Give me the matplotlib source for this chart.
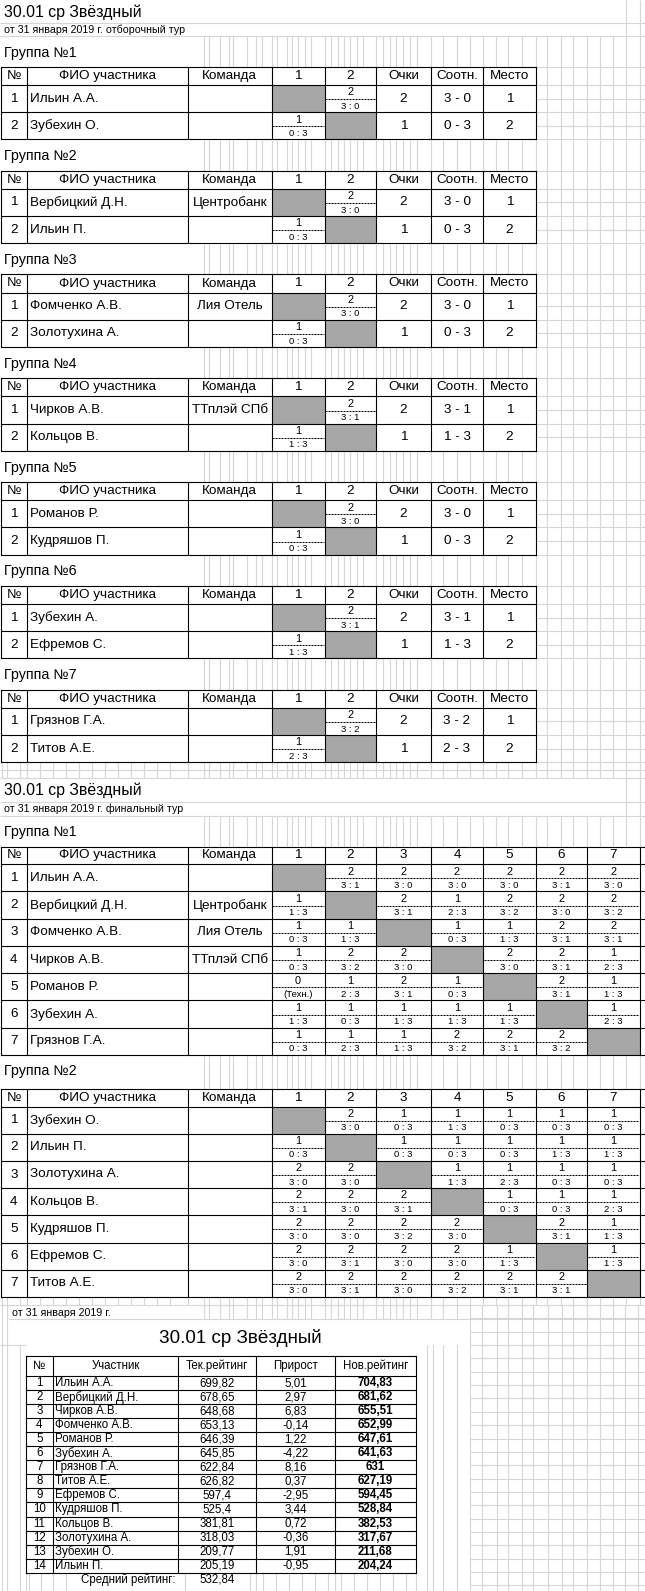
import matplotlib
matplotlib.use('Agg')
import matplotlib.pyplot as plt
from matplotlib.patches import Rectangle

plt.rcParams['font.family'] = ['Liberation Sans', 'DejaVu Sans']

# ---------------- data ----------------
TITLE = "30.01 ср Звёздный"
SUB_QUAL = "от 31 января 2019 г. отборочный тур"
SUB_FINAL = "от 31 января 2019 г. финальный тур"
SUB_RATING = "от 31 января 2019 г."

qual_groups = ["Группа №1", "Группа №2", "Группа №3", "Группа №4", "Группа №5", "Группа №6", "Группа №7"]
qual_players = [["Ильин А.А.", "Зубехин О."],
                ["Вербицкий Д.Н.", "Ильин П."],
                ["Фомченко А.В.", "Золотухина А."],
                ["Чирков А.В.", "Кольцов В."],
                ["Романов Р.", "Кудряшов П."],
                ["Зубехин А.", "Ефремов С."],
                ["Грязнов Г.А.", "Титов А.Е."]]
qual_teams = [["", ""], ["Центробанк", ""], ["Лия Отель", ""], ["ТТплэй СПб", ""],
              ["", ""], ["", ""], ["", ""]]
qual_win_sets = ["3 : 0", "3 : 0", "3 : 0", "3 : 1", "3 : 0", "3 : 1", "3 : 2"]
qual_lose_sets = ["0 : 3", "0 : 3", "0 : 3", "1 : 3", "0 : 3", "1 : 3", "2 : 3"]
qual_points = [[2, 1]] * 7
qual_ratio = [["3 - 0", "0 - 3"], ["3 - 0", "0 - 3"], ["3 - 0", "0 - 3"], ["3 - 1", "1 - 3"],
              ["3 - 0", "0 - 3"], ["3 - 1", "1 - 3"], ["3 - 2", "2 - 3"]]
qual_place = [[1, 2]] * 7
qual_header = ["№", "ФИО участника", "Команда", "1", "2", "Очки", "Соотн.", "Место"]

final_header = ["№", "ФИО участника", "Команда", "1", "2", "3", "4", "5", "6", "7"]
final1_players = ["Ильин А.А.", "Вербицкий Д.Н.", "Фомченко А.В.", "Чирков А.В.",
                  "Романов Р.", "Зубехин А.", "Грязнов Г.А."]
final1_teams = ["", "Центробанк", "Лия Отель", "ТТплэй СПб", "", "", ""]
final1_pts = [[None, 2, 2, 2, 2, 2, 2],
              [1, None, 2, 1, 2, 2, 2],
              [1, 1, None, 1, 1, 2, 2],
              [1, 2, 2, None, 2, 2, 1],
              [0, 1, 2, 1, None, 2, 1],
              [1, 1, 1, 1, 1, None, 1],
              [1, 1, 1, 2, 2, 2, None]]
final1_sets = [[None, "3 : 1", "3 : 0", "3 : 0", "3 : 0", "3 : 1", "3 : 0"],
               ["1 : 3", None, "3 : 1", "2 : 3", "3 : 2", "3 : 0", "3 : 2"],
               ["0 : 3", "1 : 3", None, "0 : 3", "1 : 3", "3 : 1", "3 : 1"],
               ["0 : 3", "3 : 2", "3 : 0", None, "3 : 0", "3 : 1", "2 : 3"],
               ["(Техн.)", "2 : 3", "3 : 1", "0 : 3", None, "3 : 1", "1 : 3"],
               ["1 : 3", "0 : 3", "1 : 3", "1 : 3", "1 : 3", None, "2 : 3"],
               ["0 : 3", "2 : 3", "1 : 3", "3 : 2", "3 : 1", "3 : 2", None]]

final2_players = ["Зубехин О.", "Ильин П.", "Золотухина А.", "Кольцов В.",
                  "Кудряшов П.", "Ефремов С.", "Титов А.Е."]
final2_teams = ["", "", "", "", "", "", ""]
final2_pts = [[None, 2, 1, 1, 1, 1, 1],
              [1, None, 1, 1, 1, 1, 1],
              [2, 2, None, 1, 1, 1, 1],
              [2, 2, 2, None, 1, 1, 1],
              [2, 2, 2, 2, None, 2, 1],
              [2, 2, 2, 2, 1, None, 1],
              [2, 2, 2, 2, 2, 2, None]]
final2_sets = [[None, "3 : 0", "0 : 3", "1 : 3", "0 : 3", "0 : 3", "0 : 3"],
               ["0 : 3", None, "0 : 3", "0 : 3", "0 : 3", "1 : 3", "1 : 3"],
               ["3 : 0", "3 : 0", None, "1 : 3", "2 : 3", "0 : 3", "0 : 3"],
               ["3 : 1", "3 : 0", "3 : 1", None, "0 : 3", "0 : 3", "2 : 3"],
               ["3 : 0", "3 : 0", "3 : 2", "3 : 0", None, "3 : 1", "1 : 3"],
               ["3 : 0", "3 : 1", "3 : 0", "3 : 0", "1 : 3", None, "1 : 3"],
               ["3 : 0", "3 : 1", "3 : 0", "3 : 2", "3 : 1", "3 : 1", None]]

rating_header = ["№", "Участник", "Тек.рейтинг", "Прирост", "Нов.рейтинг"]
rating_names = ["Ильин А.А.", "Вербицкий Д.Н.", "Чирков А.В.", "Фомченко А.В.", "Романов Р.",
                "Зубехин А.", "Грязнов Г.А.", "Титов А.Е.", "Ефремов С.", "Кудряшов П.",
                "Кольцов В.", "Золотухина А.", "Зубехин О.", "Ильин П."]
rating_cur = ["699,82", "678,65", "648,68", "653,13", "646,39", "645,85", "622,84",
              "626,82", "597,4", "525,4", "381,81", "318,03", "209,77", "205,19"]
rating_delta = ["5,01", "2,97", "6,83", "-0,14", "1,22", "-4,22", "8,16",
                "0,37", "-2,95", "3,44", "0,72", "-0,36", "1,91", "-0,95"]
rating_new = ["704,83", "681,62", "655,51", "652,99", "647,61", "641,63", "631",
              "627,19", "594,45", "528,84", "382,53", "317,67", "211,68", "204,24"]
rating_avg_label = "Средний рейтинг:"
rating_avg = "532,84"

# ---------------- layout / style ----------------
W, Hh = 645, 1591
GRID = '#d6d6d6'
GREY = '#a6a6a6'
LW = 0.8
GLW = 0.8

fig = plt.figure(figsize=(W / 100, Hh / 100), dpi=100)
ax = fig.add_axes([0, 0, 1, 1])
ax.set_xlim(0, W)
ax.set_ylim(Hh, 0)
ax.axis('off')


def gline(x0, x1, y0, y1):
    ax.plot([x0, x1], [y0, y1], color=GRID, lw=GLW, zorder=1, solid_capstyle='butt')


def bline(x0, x1, y0, y1, lw=LW):
    ax.plot([x0, x1], [y0, y1], color='black', lw=lw, zorder=4, solid_capstyle='projecting')


def vgrid(xs, y0, y1, skip=()):
    for x in xs:
        if any(a <= x <= b for a, b in skip):
            continue
        gline(x, x, y0, y1)


def hgrid(ys, x0, x1):
    for y in ys:
        gline(x0, x1, y, y)


def txt(x, y, s, size=9.7, ha='center', weight='normal', color='black'):
    ax.text(x, y, s, ha=ha, va='center', fontsize=size, fontweight=weight, color=color, zorder=5)


band_cols = [204, 209, 220, 229, 233, 247, 256, 262, 271.5, 277, 287, 292, 298, 305, 311,
             324.6, 331, 338, 344, 350, 357, 363, 376.4, 383, 390, 396, 403, 410, 416.7,
             430.7, 443, 457, 470, 483.3, 496, 508, 522, 535.6, 547, 561, 573, 587.4,
             600, 613, 626, 639.7]
left_cols = [1.7, 7.3, 20, 27.1, 40, 53, 66, 79, 92, 105, 118, 131, 144, 157, 170, 188]

tcols_q = [0.8, 27.1, 188, 271.5, 324.6, 376.4, 430.7, 483.3, 535.6]
tcols_f = [0.8, 27.1, 188, 271.5, 324.6, 376.4, 430.7, 483.3, 535.6, 587.4, 639.7]


def score_cell(x0, x1, y0, y1, top, bottom):
    h = y1 - y0
    xm = (x0 + x1) / 2
    txt(xm, y0 + 0.27 * h, str(top), size=7.9)
    ax.plot([x0 + 0.5, x1 - 0.5], [y0 + 0.52 * h, y0 + 0.52 * h], color='black', lw=0.72,
            linestyle=(0, (2, 1)), zorder=4)
    txt(xm, y0 + 0.78 * h, bottom, size=6.8)


def grey_cell(x0, x1, y0, y1):
    ax.add_patch(Rectangle((x0, y0), x1 - x0, y1 - y0, facecolor=GREY, edgecolor='none', zorder=3))


def table_frame(cols, row_edges, x_right_ext=None):
    xr = cols[-1] if x_right_ext is None else x_right_ext
    ax.add_patch(Rectangle((cols[0], row_edges[0]), xr - cols[0], row_edges[-1] - row_edges[0],
                           facecolor='white', edgecolor='none', zorder=2))
    for y in row_edges:
        bline(cols[0], xr, y, y)
    for x in cols:
        bline(x, x, row_edges[0], row_edges[-1])


# ---------------- section 1: qualifying ----------------
hgrid([22.7, 36], 0, W)
vgrid([626, 639.7], 0, 36)
txt(4, 12, TITLE, size=11.4, ha='left')
txt(4, 29.5, SUB_QUAL, size=7.7, ha='left')

PITCH = 103.8
for k in range(7):
    y0 = 36 + k * PITCH
    T = y0 + 30.8
    Hd = T + 18.2
    rows = [T, Hd, Hd + 27.2, Hd + 54.4]
    vgrid(band_cols, y0, T)
    hgrid([T, Hd, Hd + 13.6, Hd + 27.2, Hd + 40.8, Hd + 54.4], tcols_q[-1], W)
    vgrid([c for c in band_cols if c > tcols_q[-1]], T, Hd + 54.4)
    txt(4, y0 + 16.5, qual_groups[k], size=10.3, ha='left')
    table_frame(tcols_q, rows)
    for j, s in enumerate(qual_header):
        txt((tcols_q[j] + tcols_q[j + 1]) / 2, (T + Hd) / 2, s)
    for i in range(2):
        ry0, ry1 = rows[i + 1], rows[i + 2]
        ym = (ry0 + ry1) / 2
        txt((tcols_q[0] + tcols_q[1]) / 2, ym, str(i + 1))
        txt(tcols_q[1] + 2.5, ym, qual_players[k][i], ha='left')
        txt((tcols_q[2] + tcols_q[3]) / 2, ym, qual_teams[k][i])
        for j in range(2):
            cx0, cx1 = tcols_q[3 + j], tcols_q[4 + j]
            if i == j:
                grey_cell(cx0, cx1, ry0, ry1)
            elif i == 0:
                score_cell(cx0, cx1, ry0, ry1, 2, qual_win_sets[k])
            else:
                score_cell(cx0, cx1, ry0, ry1, 1, qual_lose_sets[k])
        txt((tcols_q[5] + tcols_q[6]) / 2, ym, str(qual_points[k][i]))
        txt((tcols_q[6] + tcols_q[7]) / 2, ym, qual_ratio[k][i])
        txt((tcols_q[7] + tcols_q[8]) / 2, ym, str(qual_place[k][i]))

# ---------------- section 2: final ----------------
q_end = 36 + 6 * PITCH + 30.8 + 18.2 + 54.4
vgrid(left_cols + band_cols, q_end, 777.7)
hgrid([770, 777.7, 801.7, 815.5], 0, W)
vgrid([626, 639.7], 777.7, 815.5)
txt(4, 790, TITLE, size=11.4, ha='left')
txt(4, 808.5, SUB_FINAL, size=7.7, ha='left')

final_blocks = [(815.5, 846.7, 27.25, "Группа №1", final1_players, final1_teams, final1_pts, final1_sets),
                (1055.0, 1089.0, 27.2, "Группа №2", final2_players, final2_teams, final2_pts, final2_sets)]
for (y0, T, rh, label, players, teams, pts, sets) in final_blocks:
    vgrid(band_cols, y0, T)
    txt(4, y0 + 16.5, label, size=10.3, ha='left')
    Hd = T + 17.5
    rows = [T, Hd] + [Hd + rh * (i + 1) for i in range(7)]
    table_frame(tcols_f, rows, x_right_ext=W + 2)
    for j, s in enumerate(final_header):
        txt((tcols_f[j] + tcols_f[j + 1]) / 2, (T + Hd) / 2, s)
    for i in range(7):
        ry0, ry1 = rows[i + 1], rows[i + 2]
        ym = (ry0 + ry1) / 2
        txt((tcols_f[0] + tcols_f[1]) / 2, ym, str(i + 1))
        txt(tcols_f[1] + 2.5, ym, players[i], ha='left')
        txt((tcols_f[2] + tcols_f[3]) / 2, ym, teams[i])
        for j in range(7):
            cx0, cx1 = tcols_f[3 + j], tcols_f[4 + j]
            if i == j:
                grey_cell(cx0, cx1, ry0, ry1)
            else:
                score_cell(cx0, cx1, ry0, ry1, pts[i][j], sets[i][j])

# ---------------- section 3: rating ----------------
f_end = 1089.0 + 17.5 + 27.2 * 7
rcols = [25.9, 52.7, 178.3, 256.3, 335.3, 415.5]
rat_right = [470, 481.7, 496.7, 508, 521.7, 533, 548, 561.7, 573, 586.7, 600, 613, 625, 638]
rat_mid = [426.7, 433, 443, 456.7]
rat_inner = [29, 41, 66, 79, 92, 105, 118, 131, 144, 157, 170, 185, 198, 211, 224, 237, 250,
             263, 276, 289, 302, 315, 328, 341, 354, 367, 380, 393, 406]

vgrid(left_cols + band_cols, f_end, 1305)
hgrid([1305], 0, W)
hgrid([1319.3], 9, W)
vgrid([1.7, 7.3], 1305, Hh)
vgrid([20], 1345, Hh)
vgrid([c for c in band_cols if c < 470], 1305, 1319.3)
vgrid(rat_right, 1305, Hh)
hgrid([1305 + 13.35 * i for i in range(1, 22)], 470, W)
vgrid(rat_mid, 1345, Hh)
hgrid([1345], 0, 25.9)
txt(12, 1312.5, SUB_RATING, size=7.7, ha='left')
txt(240, 1338, TITLE, size=13.6)

RT = 1355.7
RH = 1376.0
RR = 14.05
rrows = [RT, RH] + [RH + RR * (i + 1) for i in range(14)]
table_frame(rcols, rrows)
vgrid(rcols + rat_inner, rrows[-1], Hh, skip=((75, 182), (190, 245)))
RS = 8.3
for j, s in enumerate(rating_header):
    txt((rcols[j] + rcols[j + 1]) / 2, (RT + RH) / 2, s, size=RS)
for i in range(14):
    ym = (rrows[i + 1] + rrows[i + 2]) / 2
    txt((rcols[0] + rcols[1]) / 2, ym, str(i + 1), size=RS)
    txt(rcols[1] + 2.5, ym, rating_names[i], size=RS, ha='left')
    txt((rcols[2] + rcols[3]) / 2, ym, rating_cur[i], size=RS)
    txt((rcols[3] + rcols[4]) / 2, ym, rating_delta[i], size=RS)
    txt((rcols[4] + rcols[5]) / 2, ym, rating_new[i], size=RS, weight='bold')
txt(176, 1580, rating_avg_label, size=RS, ha='right')
txt((rcols[2] + rcols[3]) / 2, 1580, rating_avg, size=RS)

fig.savefig('out.png', dpi=100, facecolor='white')
